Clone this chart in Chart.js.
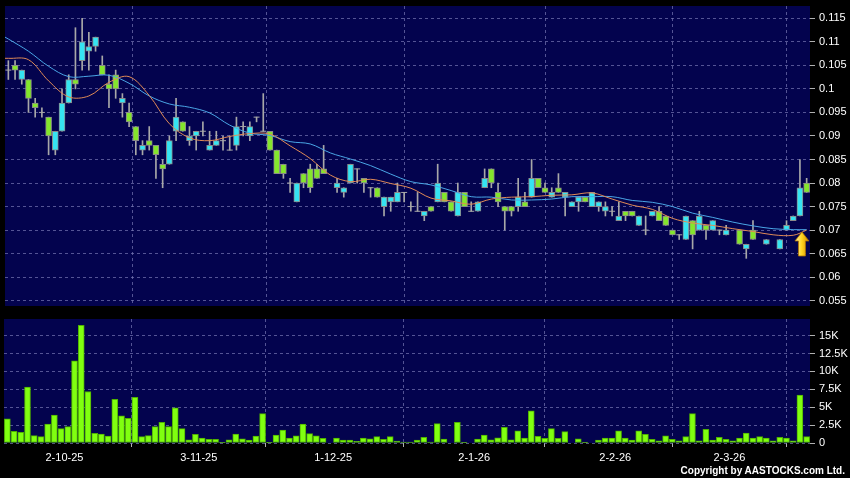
<!DOCTYPE html>
<html><head><meta charset="utf-8">
<script src="https://cdn.jsdelivr.net/npm/chart.js@4.4.1/dist/chart.umd.min.js"></script>
<style>
html,body{margin:0;padding:0;background:#000;}
#wrap{position:relative;width:850px;height:478px;background:#000;overflow:hidden}
canvas{position:absolute;left:0;top:0}
#copy{position:absolute;right:5px;top:465px;color:#fff;font:bold 10px "Liberation Sans",Arial,sans-serif;white-space:nowrap}
</style></head><body>
<div id="wrap">
<canvas id="price" width="850" height="478"></canvas>
<canvas id="vol" width="850" height="478"></canvas>
<div id="copy">Copyright by AASTOCKS.com Ltd.</div>
</div>
<script>
// ---- data ----
const openP = [
 .104,.105,.102,.102,.097,.095,.094,.087,.091,.097,
 .102,.106,.108,.109,.105,.101,.103,.097,.095,.092,
 .087,.089,.088,.084,.084,.091,.093,.089,.090,.091,
 .087,.088,.089,.087,.088,.092,.090,.094,.091,.091,
 .087,.084,.080,.076,.082,.083,.083,.083,null,.079,
 .078,.080,.083,.081,.079,.079,.075,.076,.076,.078,
 .075,.074,.073,.075,.076,.078,.076,.073,.078,.074,
 .074,.079,.083,.078,.075,.075,.075,.076,.077,.081,
 .079,.077,.079,.077,.075,.076,.077,.075,.075,.074,
 .074,.072,.074,.074,.071,.070,.073,.074,.073,.070,
 .069,.068,.072,.070,.071,.070,.070,.069,null,.070,
 .066,.070,null,.067,null,.066,.070,.072,.073,.080];
const highP = [
 .106,.106,.104,.102,.098,.096,.094,.091,.100,.103,
 .113,.115,.112,.111,.107,.103,.104,.099,.097,.092,
 .089,.092,.088,.085,.090,.098,.093,.092,.091,.093,
 .091,.091,.090,.090,.094,.093,.093,.094,.099,.091,
 .087,.084,.081,.080,.082,.084,.084,.088,null,.081,
 .079,.084,.083,.081,.079,.079,.077,.077,.080,.078,
 .076,.078,.074,.075,.084,.078,.076,.080,.078,.076,
 .076,.083,.083,.080,.075,.075,.081,.078,.085,.081,
 .080,.079,.082,.078,.076,.077,.077,.078,.076,.076,
 .075,.076,.074,.074,.073,.073,.074,.075,.073,.070,
 .069,.073,.072,.074,.071,.072,.070,.071,null,.070,
 .067,.072,null,.068,null,.068,.072,.073,.085,.081];
const lowP = [
 .102,.102,.101,.095,.094,.094,.086,.086,.091,.097,
 .100,.104,.104,.108,.103,.096,.098,.094,.092,.086,
 .086,.087,.081,.079,.084,.089,.091,.088,.087,.090,
 .087,.088,.087,.087,.087,.090,.089,.093,.091,.087,
 .082,.081,.078,.076,.079,.078,.081,.082,null,.078,
 .077,.080,.080,.078,.077,.077,.073,.074,.076,.076,
 .074,.074,.072,.074,.076,.076,.074,.073,.075,.074,
 .074,.079,.079,.075,.070,.073,.074,.075,.077,.079,
 .078,.077,.078,.073,.075,.074,.076,.075,.074,.073,
 .073,.072,.072,.073,.071,.069,.073,.072,.071,.069,
 .068,.068,.066,.070,.068,.070,.069,.069,null,.067,
 .064,.068,null,.067,null,.066,.070,.072,.073,.078];
const closeP = [
 .104,.104,.104,.098,.096,.095,.090,.091,.097,.102,
 .101,.110,.109,.111,.103,.100,.100,.098,.093,.089,
 .088,.088,.086,.083,.089,.094,.091,.090,.091,.091,
 .088,.089,.089,.087,.092,.092,.092,.094,.091,.087,
 .082,.082,.080,.080,.080,.079,.081,.082,null,.080,
 .079,.084,.083,.080,.079,.077,.077,.077,.078,.078,
 .075,.074,.074,.074,.080,.076,.074,.078,.075,.074,
 .076,.081,.080,.076,.074,.074,.077,.075,.081,.079,
 .078,.078,.078,.078,.076,.077,.076,.078,.076,.075,
 .074,.073,.073,.073,.073,.070,.074,.072,.071,.069,
 .069,.073,.069,.073,.070,.072,.070,.070,null,.067,
 .067,.068,null,.068,null,.068,.071,.073,.079,.078];
const volume = [
 3390,1630,1490,7800,1020,880,2650,3900,2000,2280,
 11500,16450,7200,1350,1250,980,6100,3800,3440,6400,
 880,1020,2280,2880,2280,4930,2000,460,1200,700,
 500,500,50,460,1250,600,420,980,4100,50,
 1100,1800,700,1000,2650,1300,1000,650,0,700,
 420,420,230,700,600,880,500,880,280,140,
 140,420,790,140,2700,560,0,2880,100,0,
 560,1100,460,740,2200,460,1700,700,4500,930,
 650,2000,650,1600,0,600,100,0,400,700,
 700,1700,700,400,1700,1200,500,300,1000,500,
 300,900,4100,300,1900,400,800,500,300,700,
 1400,700,900,700,300,800,700,300,6700,900];
const maIdx = [-0.5,0,3,6,9,12,15,18,21,24,27,30,33,36,39,42,45,48,51,54,57,60,63,66,69,72,75,78,81,84,87,90,93,96,99,102,105,108,111,114,117,119];
const ma20 = [.1110,.1106,.1080,.1048,.1026,.1027,.1029,.1012,.0985,.0968,.0961,.0949,.0923,.0906,.0901,.0888,.0883,.0864,.0851,.0837,.0819,.0803,.0796,.0784,.0771,.0770,.0764,.0764,.0766,.0771,.0771,.0771,.0763,.0759,.0750,.0736,.0727,.0717,.0709,.0703,.0701,.0701];
const ma10 = [.1065,.1065,.1062,.1017,.0983,.0985,.1014,.1026,.0986,.0926,.0896,.0890,.0899,.0905,.0904,.0879,.0852,.0817,.0803,.0808,.0799,.0789,.0768,.0762,.0755,.0766,.0770,.0771,.0774,.0775,.0779,.0766,.0753,.0744,.0725,.0715,.0710,.0703,.0697,.0690,.0689,.0700];
const priceTicks = [0.055,0.06,0.065,0.07,0.075,0.08,0.085,0.09,0.095,0.1,0.105,0.11,0.115];
const volTicks = [0,2500,5000,7500,10000,12500,15000];
const dateTickIdx = [8.5,28.5,48.5,69.5,90.5,107.5];
const dateTickLabels = ['2-10-25','3-11-25','1-12-25','2-1-26','2-2-26','2-3-26'];
const signalIdx = [118.3];
const signalVal = [0.0696];

// ---- styling ----
const NAVY = '#03034e';
const GRID = 'rgba(120,120,180,0.7)';
const UP = '#35e4f2', DOWN = '#84e62c', EDGE = '#8a8a8a', WICK = '#a8a8a8';
const FONT = {family:'"Liberation Sans", Arial, sans-serif', size:11};

const areaBg = {id:'areaBg', beforeDraw(c){const a=c.chartArea,x=c.ctx;x.save();x.fillStyle=NAVY;x.fillRect(a.left,a.top,a.right-a.left,a.bottom-a.top);x.restore();}};
const arrowPlugin = {id:'arrow', afterDatasetsDraw(c){
  const x=c.ctx, xs=c.scales.x, ys=c.scales.y;
  signalIdx.forEach((si,k)=>{
    const px=xs.getPixelForValue(si), py=ys.getPixelForValue(signalVal[k]);
    const g=x.createLinearGradient(px-7,0,px+7,0);
    g.addColorStop(0,'#fff6a8');g.addColorStop(0.5,'#ffd21e');g.addColorStop(1,'#d08a00');
    x.save();x.beginPath();
    x.moveTo(px,py);x.lineTo(px+7,py+9);x.lineTo(px+3.5,py+9);x.lineTo(px+3.5,py+24);
    x.lineTo(px-3.5,py+24);x.lineTo(px-3.5,py+9);x.lineTo(px-7,py+9);x.closePath();
    x.fillStyle=g;x.fill();x.strokeStyle='#b07000';x.lineWidth=0.8;x.stroke();x.restore();
  });
}};

const idx = openP.map((_,i)=>i);
const valid = idx.filter(i=>openP[i]!==null);
const bodies = valid.filter(i=>openP[i]!==closeP[i]);
const dojis = valid.filter(i=>openP[i]===closeP[i]);

const fitX = h => s => {s.height=h;s.paddingLeft=0;s.paddingRight=0;};
const fitY = s => {s.width=40;s.paddingTop=0;s.paddingBottom=0;};
const xCommon = {type:'linear',min:-0.5,max:119.5,offset:false,
  afterBuildTicks:s=>{s.ticks=dateTickIdx.map(v=>({value:v}));},
  border:{display:false,dash:[3,3]}};

new Chart(document.getElementById('price'),{
  type:'bar',
  data:{datasets:[
    {type:'line',data:maIdx.map((v,k)=>({x:v,y:ma10[k]})),borderColor:'#e08a56',borderWidth:1,pointRadius:0,tension:0.35,order:0},
    {type:'line',data:maIdx.map((v,k)=>({x:v,y:ma20[k]})),borderColor:'#4aa6e6',borderWidth:1,pointRadius:0,tension:0.35,order:0},
    {type:'line',showLine:false,data:dojis.map(i=>({x:i,y:closeP[i]})),pointStyle:'line',pointRadius:3,pointBorderColor:WICK,pointBorderWidth:1,order:1},
    {type:'bar',data:bodies.map(i=>({x:i,y:[openP[i],closeP[i]]})),backgroundColor:bodies.map(i=>closeP[i]>openP[i]?UP:DOWN),borderColor:EDGE,borderWidth:1,borderSkipped:false,barThickness:6,grouped:false,order:2},
    {type:'bar',data:valid.map(i=>({x:i,y:[lowP[i],highP[i]]})),backgroundColor:WICK,borderWidth:0,barThickness:1,grouped:false,order:3}
  ]},
  options:{responsive:false,animation:false,events:[],
    layout:{padding:{left:4,top:6,right:0,bottom:172}},
    plugins:{legend:{display:false},tooltip:{enabled:false}},
    scales:{
      x:Object.assign({},xCommon,{ticks:{display:false},grid:{color:GRID,drawTicks:false},afterFit:fitX(0)}),
      y:{position:'right',min:0.053874,max:0.117613,
        afterBuildTicks:s=>{s.ticks=priceTicks.map(v=>({value:v}));},
        afterFit:fitY,
        border:{display:false,dash:[3,3]},
        grid:{color:GRID,tickColor:'#b0b0b0',tickLength:5,drawTicks:true},
        ticks:{color:'#ffffff',font:FONT,padding:4,callback:v=>String(v)}}
    }},
  plugins:[areaBg,arrowPlugin]
});

new Chart(document.getElementById('vol'),{
  type:'bar',
  data:{datasets:[
    {data:idx.map(i=>({x:i,y:volume[i]})),backgroundColor:'#80ff10',borderColor:'#4fb000',borderWidth:1,borderSkipped:false,barThickness:6,grouped:false}
  ]},
  options:{responsive:false,animation:false,events:[],
    layout:{padding:{left:4,top:319,right:0,bottom:0}},
    plugins:{legend:{display:false},tooltip:{enabled:false}},
    scales:{
      x:Object.assign({},xCommon,{
        grid:{color:GRID,tickColor:'#b0b0b0',tickLength:4,drawTicks:true},
        ticks:{color:'#ffffff',font:FONT,padding:4,maxRotation:0,autoSkip:false,
          callback:v=>{const k=dateTickIdx.indexOf(v);return k>=0?dateTickLabels[k]:'';}},
        afterFit:fitX(35)}),
      y:{position:'right',min:0,max:17330,
        afterBuildTicks:s=>{s.ticks=volTicks.map(v=>({value:v}));},
        afterFit:fitY,
        border:{display:false,dash:[3,3]},
        grid:{color:GRID,tickColor:'#b0b0b0',tickLength:5,drawTicks:true},
        ticks:{color:'#ffffff',font:FONT,padding:4,callback:v=>v===0?'0':(v/1000)+'K'}}
    }},
  plugins:[areaBg]
});
</script>
</body></html>
